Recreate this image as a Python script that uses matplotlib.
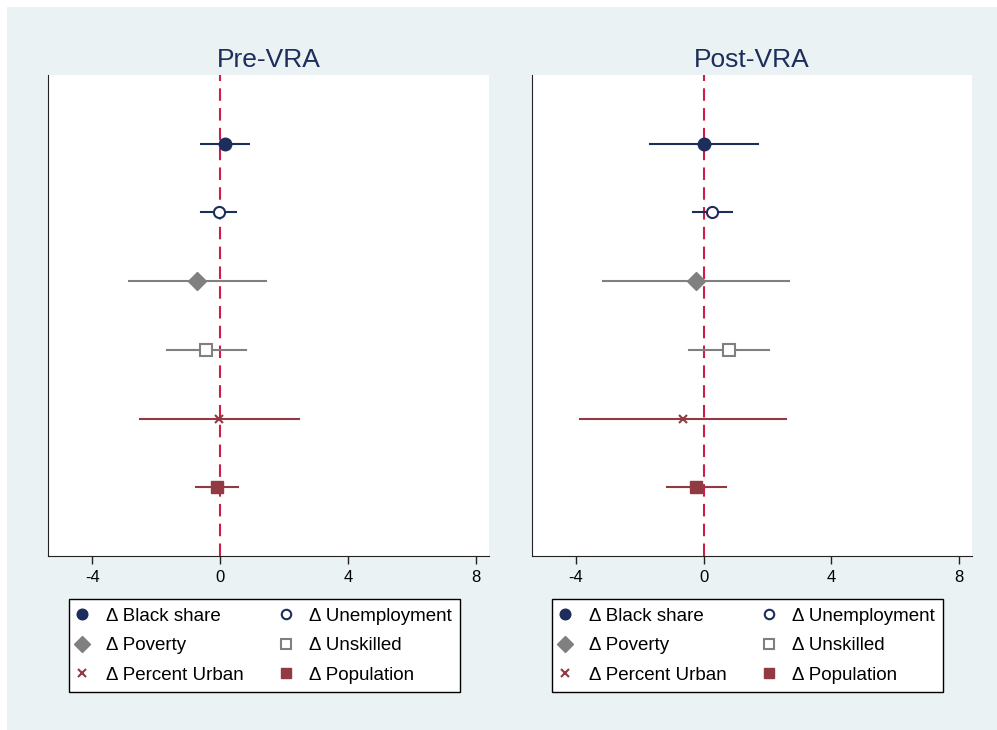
import matplotlib.pyplot as plt
from matplotlib.lines import Line2D
from matplotlib.patches import Rectangle

plt.rcParams['font.family'] = ['Liberation Sans', 'DejaVu Sans']

LABELS = ['Δ Black share', 'Δ Unemployment', 'Δ Poverty',
          'Δ Unskilled', 'Δ Percent Urban', 'Δ Population']
PANELS = ['Pre-VRA', 'Post-VRA']

# point estimates and confidence bounds, one list per panel
PRE_EST = [0.16, -0.03, -0.72, -0.44, -0.03, -0.09]
PRE_LO = [-0.59, -0.60, -2.85, -1.67, -2.50, -0.75]
PRE_HI = [0.90, 0.50, 1.43, 0.81, 2.46, 0.57]

POST_EST = [0.00, 0.27, -0.25, 0.78, -0.65, -0.23]
POST_LO = [-1.69, -0.33, -3.15, -0.47, -3.88, -1.15]
POST_HI = [1.71, 0.88, 2.67, 2.04, 2.59, 0.69]

XTICKS = [-4, 0, 4, 8]

NAVY = '#1d2d5c'
GRAY = '#808080'
MAROON = '#913a42'
RED = '#d01c48'
BG = '#eaf2f3'

STYLES = [
    dict(marker='o', color=NAVY, mfc=NAVY, ms=9),
    dict(marker='o', color=NAVY, mfc='white', ms=8, mew=1.5),
    dict(marker='D', color=GRAY, mfc=GRAY, ms=9),
    dict(marker='s', color=GRAY, mfc='white', ms=8, mew=1.5),
    dict(marker='x', color=MAROON, mfc=MAROON, ms=6, mew=1.5),
    dict(marker='s', color=MAROON, mfc=MAROON, ms=9),
]


def draw_panel(ax, est, lo, hi, title):
    ys = list(range(len(est), 0, -1))
    ax.axvline(0, color=RED, lw=1.5, ls=(0, (6, 3.5)), zorder=1)
    for i in range(len(est)):
        st = STYLES[i]
        ax.plot([lo[i], hi[i]], [ys[i], ys[i]], color=st['color'], lw=1.5, zorder=2)
        ax.plot(est[i], ys[i], ls='none', marker=st['marker'], color=st['color'],
                mfc=st['mfc'], mec=st['color'], ms=st['ms'], mew=st.get('mew', 1.0),
                zorder=3)
    ax.set_xlim(-5.38, 8.41)
    ax.set_ylim(0, 7)
    ax.set_xticks(XTICKS)
    ax.set_xticklabels([str(t) for t in XTICKS])
    ax.set_yticks([])
    ax.tick_params(axis='x', length=6, width=1, labelsize=12, pad=4, color='#222222')
    ax.spines['top'].set_visible(False)
    ax.spines['right'].set_visible(False)
    ax.spines['left'].set_color('#222222')
    ax.spines['bottom'].set_color('#222222')
    ax.set_facecolor('white')
    ax.set_title(title, fontsize=19, color=NAVY, pad=6)


fig = plt.figure(figsize=(9.97, 7.30), dpi=100, facecolor='white')
fig.patches.append(Rectangle((7 / 997, 0), 1, (730 - 7) / 730, transform=fig.transFigure,
                             facecolor=BG, edgecolor='none', zorder=-10))

ax1 = fig.add_axes([48 / 997, 1 - 556 / 730, 441 / 997, 481 / 730])
ax2 = fig.add_axes([532 / 997, 1 - 556 / 730, 440 / 997, 481 / 730])
draw_panel(ax1, PRE_EST, PRE_LO, PRE_HI, PANELS[0])
draw_panel(ax2, POST_EST, POST_LO, POST_HI, PANELS[1])

# legend handles, ordered so that the 2-column legend reads row by row
handles = []
for st in STYLES:
    handles.append(Line2D([], [], ls='none', marker=st['marker'], color=st['color'],
                          mfc=st['mfc'], mec=st['color'], ms=st['ms'] * 0.85,
                          mew=st.get('mew', 1.0)))
order = [0, 2, 4, 1, 3, 5]
for x0 in (69, 552):
    leg = fig.legend([handles[i] for i in order], [LABELS[i] for i in order],
                     loc='upper left', ncol=2,
                     bbox_to_anchor=(x0 / 997, 1 - 599 / 730),
                     fontsize=13.5, frameon=True, fancybox=False, framealpha=1,
                     edgecolor='black', handlelength=0.5, handletextpad=1.0,
                     columnspacing=2.0, labelspacing=0.66, borderpad=0.45,
                     borderaxespad=0)
    leg.get_frame().set_linewidth(1.0)

fig.savefig('out.png', dpi=100, facecolor=fig.get_facecolor())
